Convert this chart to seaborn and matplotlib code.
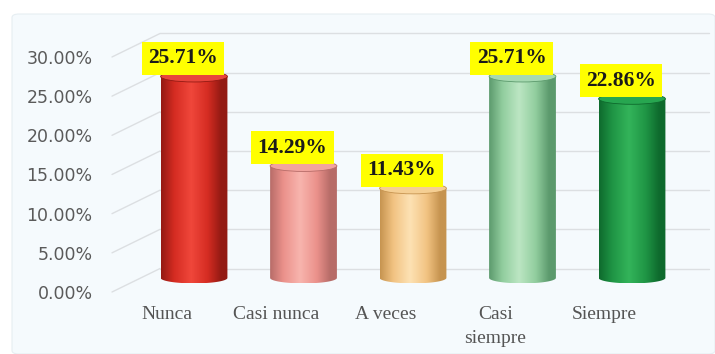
import numpy as np
import pandas as pd
import matplotlib
matplotlib.use("Agg")
import matplotlib.pyplot as plt
import seaborn as sns
from matplotlib.colors import LinearSegmentedColormap
from matplotlib.patches import Ellipse, PathPatch, FancyBboxPatch
from matplotlib.path import Path

# ---- data ----
categories = ["Nunca", "Casi nunca", "A veces", "Casi\nsiempre", "Siempre"]
percentages = [25.71, 14.29, 11.43, 25.71, 22.86]
tick_values = [0, 5, 10, 15, 20, 25, 30]
tick_labels = ["0.00%", "5.00%", "10.00%", "15.00%", "20.00%", "25.00%", "30.00%"]

# cylinder shading: (dark edge, body, highlight, top face)
bar_shades = [
    ("#931a13", "#d52c22", "#f0473b", "#e8463c"),
    ("#b76c68", "#eb918b", "#f8b5ae", "#f2a49e"),
    ("#c69450", "#f2c382", "#fde2b4", "#f5cf93"),
    ("#5c9a6d", "#91cd9e", "#bce6c3", "#a6d9b0"),
    ("#0e6a2d", "#1f9545", "#33b45a", "#27a650"),
]

sns.set_theme(style="white")
plt.rcParams["font.family"] = ["DejaVu Sans"]

W, H, DPI = 715, 354, 100
fig = plt.figure(figsize=(W / DPI, H / DPI), dpi=DPI)
fig.patch.set_facecolor("white")

# light chart panel behind everything
panel = FancyBboxPatch((12 / W, 0.0), 1 - 12 / W, 1 - 14 / H,
                       boxstyle="round,pad=0,rounding_size=0.01",
                       transform=fig.transFigure, facecolor="#f5fafd",
                       edgecolor="#e6eef2", linewidth=0.8, zorder=-5)
fig.patches.append(panel)

ax = fig.add_axes([112 / W, 1 - 300 / H, 588 / W, 280 / H])
ax.set_facecolor("none")
ax.set_zorder(1)

depth = 1.8          # bars sit in the middle of the 3-D floor
wall = 3.0           # back wall is raised relative to the front labels
cap_h = 1.4          # height of the elliptical caps in data units

df = pd.DataFrame({"cat": categories, "pct": percentages})
sns.barplot(data=df, x="cat", y="pct", ax=ax, width=0.61,
            color="white", edgecolor="none", saturation=1, zorder=3)

# cylinder bodies and caps, built on the seaborn bar geometry
for patch, (dark, body, light, top), val in zip(ax.patches, bar_shades,
                                                 percentages):
    x0 = patch.get_x()
    w = patch.get_width()
    x1 = x0 + w
    xc = x0 + w / 2
    h = patch.get_height()
    patch.set_visible(False)
    cmap = LinearSegmentedColormap.from_list(
        "cyl", [(0, dark), (0.2, body), (0.45, light), (0.7, body),
                (0.9, dark), (1, dark)])
    grad = np.linspace(0, 1, 256)[None, :]
    img = ax.imshow(grad, cmap=cmap, aspect="auto",
                    extent=[x0, x1, -cap_h / 2, h], zorder=3,
                    interpolation="bicubic")
    t = np.linspace(np.pi, 2 * np.pi, 60)
    arc_x = xc + (w / 2) * np.cos(t)
    arc_y = (cap_h / 2) * np.sin(t)
    verts = ([(x0, h)] + list(zip(arc_x, arc_y)) + [(x1, h), (x0, h)])
    codes = [Path.MOVETO] + [Path.LINETO] * (len(verts) - 2) + [Path.CLOSEPOLY]
    clip = PathPatch(Path(verts, codes), transform=ax.transData,
                     facecolor="none", edgecolor="none")
    ax.add_patch(clip)
    img.set_clip_path(clip)
    ax.add_patch(Ellipse((xc, h), w, cap_h, facecolor=top, edgecolor=dark,
                         linewidth=0.6, zorder=4))
    ax.text(xc - 0.1, h + 1.05, f"{val:.2f}%", ha="center", va="bottom",
            fontsize=15.5, fontweight="bold", family="Liberation Serif",
            color="#1a1a1a", zorder=6,
            bbox=dict(boxstyle="square,pad=0.3", facecolor="#ffff00",
                      edgecolor="none"))

# back-wall gridlines plus the perspective connectors to the tick labels
for v in tick_values:
    yb = v - depth + wall
    ax.plot([-0.31, 4.7], [yb, yb], color="#dcdfe2", lw=1.0, zorder=1,
            clip_on=False)
    ax.plot([-0.749, -0.31], [v - depth, yb], color="#dcdfe2", lw=1.0,
            zorder=1, clip_on=False)

ax.set_xlim(-0.749, 4.621)
ax.set_ylim(-depth - 1.02, -depth + 34.72)
ax.set_xlabel("")
ax.set_ylabel("")

ax.set_yticks([v - depth for v in tick_values])
ax.set_yticklabels(tick_labels, fontsize=12.5, color="#5a5a5a")
ax.tick_params(axis="y", length=0, pad=14)

ax.set_xticks([i - 0.25 for i in range(len(categories))])
ax.set_xticklabels(categories, fontsize=14, color="#555555",
                   family="Liberation Serif")
ax.tick_params(axis="x", length=0, pad=4)
for lab in ax.get_xticklabels():
    lab.set_linespacing(1.55)

for s in ax.spines.values():
    s.set_visible(False)
ax.grid(False)

fig.savefig("out.png", dpi=DPI, facecolor=fig.get_facecolor())
